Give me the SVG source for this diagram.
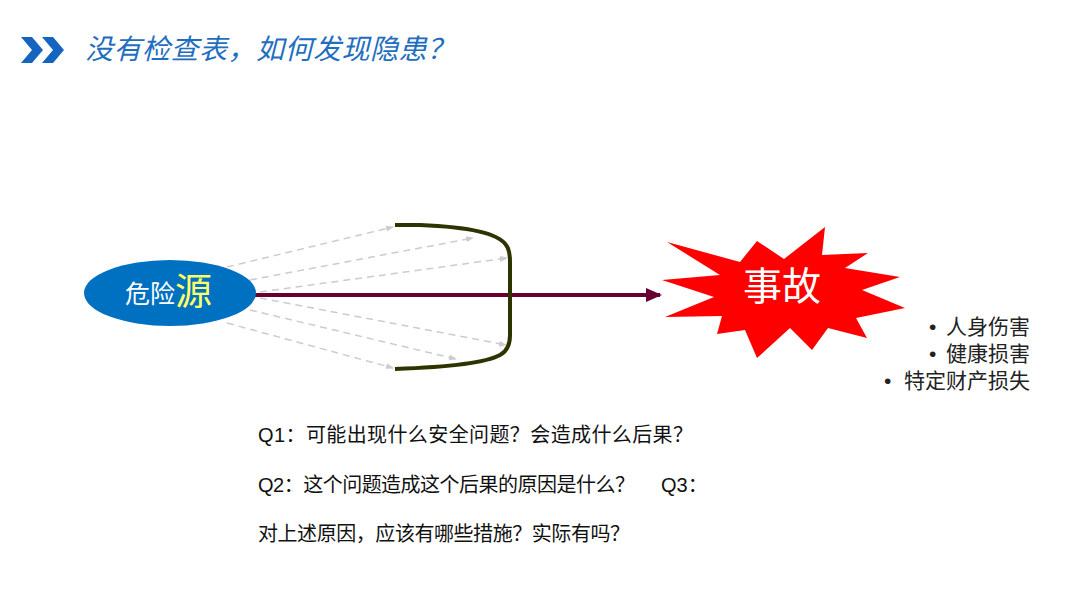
<svg xmlns="http://www.w3.org/2000/svg" width="1080" height="608" viewBox="0 0 1080 608">
<style>
.cjk{font-family:"Liberation Sans","Noto Sans CJK SC",sans-serif}
.dash{stroke:#cccccc;stroke-width:1.5;stroke-dasharray:7 5;fill:none;marker-end:url(#ga)}
.q{font-size:20px;fill:#111}
.b{font-size:21px;fill:#222;text-anchor:end}
</style>
<defs>
<marker id="ga" markerWidth="8" markerHeight="8" refX="7" refY="4" orient="auto" markerUnits="userSpaceOnUse">
<path d="M0,1 L8,4 L0,7 Z" fill="#cccccc"/>
</marker>
<marker id="ma" markerWidth="16" markerHeight="14" refX="14" refY="7" orient="auto" markerUnits="userSpaceOnUse">
<path d="M0,0 L16,7 L0,14 Z" fill="#660033"/>
</marker>
</defs>
<rect width="1080" height="608" fill="#ffffff"/>
<g id="title">
<path d="M21,37 L32,37 L43,50 L32,63 L21,63 L32,50 Z" fill="#1565c0"/>
<path d="M42,37 L53,37 L64,50 L53,63 L42,63 L53,50 Z" fill="#1565c0"/>
<text x="85" y="59" class="cjk" font-size="28" font-style="italic" fill="#1f6ec0" textLength="370" lengthAdjust="spacing">没有检查表，如何发现隐患？</text>
</g>
<g id="connectors">
<line class="dash" x1="227" y1="267" x2="393" y2="227"/>
<line class="dash" x1="250" y1="280" x2="473" y2="238"/>
<line class="dash" x1="260" y1="292" x2="507" y2="258"/>
<line class="dash" x1="260" y1="298" x2="506" y2="345"/>
<line class="dash" x1="250" y1="310" x2="456" y2="359"/>
<line class="dash" x1="227" y1="323" x2="393" y2="368"/>
<line x1="255" y1="295" x2="660" y2="295" stroke="#660033" stroke-width="4" marker-end="url(#ma)"/>
</g>
<g id="barrier">
<path d="M395,225 L420,225 Q495,228 506,245 Q510,250 510,262 L510,335 Q510,350 500,355 Q480,366 395,369" fill="none" stroke="#2f3300" stroke-width="4"/>
</g>
<g id="source">
<ellipse cx="170" cy="293" rx="86" ry="33" fill="#0070c0"/>
<text x="125" y="303" class="cjk" font-size="25" fill="#ffffff">危险<tspan font-size="37" fill="#ffff66" dy="2">源</tspan></text>
</g>
<g id="accident">
<polygon points="667,242 740,262 757,241 784,259 825,227 822,255 868,253 845,268 900,277 862,290 905,308 856,318 867,338 828,328 812,350 790,328 757,358 745,330 717,334 722,316 665,317 714,297 662,280 720,275" fill="#ff0000"/>
<text x="782" y="300" class="cjk" font-size="39" fill="#ffffff" text-anchor="middle">事故</text>
</g>
<g id="consequences" class="cjk">
<text x="929" y="334" font-size="21" fill="#222">•</text>
<text x="1030" y="334" class="b">人身伤害</text>
<text x="929" y="361" font-size="21" fill="#222">•</text>
<text x="1030" y="361" class="b">健康损害</text>
<text x="884" y="388" font-size="21" fill="#222">•</text>
<text x="1030" y="388" class="b">特定财产损失</text>
</g>
<g id="questions" class="cjk">
<text x="258" y="442" class="q" textLength="435" lengthAdjust="spacing">Q1：可能出现什么安全问题？会造成什么后果？</text>
<text x="258" y="492" class="q" textLength="377" lengthAdjust="spacing">Q2：这个问题造成这个后果的原因是什么？</text>
<text x="661" y="492" class="q">Q3：</text>
<text x="258" y="541" class="q" textLength="372" lengthAdjust="spacing">对上述原因，应该有哪些措施？实际有吗？</text>
</g>
</svg>
